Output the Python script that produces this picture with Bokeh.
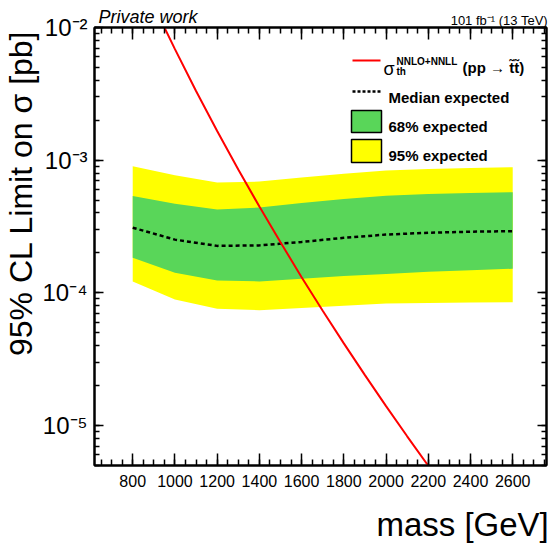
import numpy as np
from bokeh.plotting import figure
from bokeh.models import (LinearAxis, LogAxis, SingleIntervalTicker, LogTicker,
                          CustomJSTickFormatter, Label, BoxAnnotation, Arrow, Range1d)
from bokeh.embed import file_html
from bokeh.resources import INLINE

# ---------------- data ----------------
mass = [800, 1000, 1200, 1400, 1600, 1800, 2000, 2200, 2400, 2600]
median_expected = [3.10e-4, 2.52e-4, 2.26e-4, 2.28e-4, 2.42e-4, 2.60e-4, 2.75e-4, 2.84e-4, 2.89e-4, 2.92e-4]
band68_hi = [5.36e-4, 4.69e-4, 4.25e-4, 4.40e-4, 4.75e-4, 5.10e-4, 5.40e-4, 5.55e-4, 5.65e-4, 5.74e-4]
band68_lo = [1.84e-4, 1.42e-4, 1.24e-4, 1.22e-4, 1.28e-4, 1.34e-4, 1.39e-4, 1.44e-4, 1.48e-4, 1.52e-4]
band95_hi = [9.0e-4, 7.7e-4, 6.8e-4, 6.9e-4, 7.4e-4, 7.9e-4, 8.35e-4, 8.6e-4, 8.75e-4, 8.85e-4]
band95_lo = [1.22e-4, 8.9e-5, 7.6e-5, 7.4e-5, 7.7e-5, 8.0e-5, 8.3e-5, 8.4e-5, 8.45e-5, 8.5e-5]

theory_mass = [900, 1000, 1100, 1200, 1300, 1400, 1500, 1600, 1700, 1800, 1900, 2000, 2100, 2200, 2300]
theory_xsec = [1.46e-2, 6.87e-3, 3.32e-3, 1.66e-3, 8.51e-4, 4.47e-4, 2.41e-4, 1.31e-4, 7.33e-5,
               4.16e-5, 2.40e-5, 1.40e-5, 8.30e-6, 4.98e-6, 3.03e-6]

x_title = "mass [GeV]"
y_title = "95% CL Limit on σ [pb]"
lumi_text = "101 fb⁻¹ (13 TeV)"
tag_text = "Private work"
FONT = "Liberation Sans"
YELLOW = "#FFFF00"
GREEN = "#59D659"
NB = "\u00a0"  # non-breaking space used to shift centred axis titles

p = figure(width=552, height=547,
           x_range=Range1d(619, 2760), y_range=Range1d(5e-6, 1e-2),
           y_axis_type="log", output_backend="svg", toolbar_location=None,
           min_border_left=94, min_border_right=6, min_border_top=27, min_border_bottom=82)
p.grid.visible = False
p.outline_line_color = "black"
p.outline_line_width = 2
p.background_fill_color = "white"
p.border_fill_color = "white"

# ---------------- glyphs ----------------
p.varea(x=mass, y1=band95_lo, y2=band95_hi, fill_color=YELLOW)
p.varea(x=mass, y1=band68_lo, y2=band68_hi, fill_color=GREEN)
p.line(x=mass, y=median_expected, line_color="black", line_width=2.5, line_dash="4 3")
p.line(x=theory_mass, y=theory_xsec, line_color="#FF0000", line_width=2)

# ---------------- axes ----------------
xticker = SingleIntervalTicker(interval=200, num_minor_ticks=4)
yticker = LogTicker(num_minor_ticks=10)
yfmt = CustomJSTickFormatter(code="""
const e = Math.round(Math.log10(tick));
const sup = {"-": "\\u207b", "0": "\\u2070", "1": "\\u00b9", "2": "\\u00b2", "3": "\\u00b3",
             "4": "\\u2074", "5": "\\u2075", "6": "\\u2076", "7": "\\u2077", "8": "\\u2078", "9": "\\u2079"};
return "10" + String(e).split("").map(c => sup[c]).join("");
""")
blank = CustomJSTickFormatter(code="return '';")

def style_common(ax):
    ax.axis_line_color = "black"
    ax.axis_line_width = 2
    ax.major_tick_out = 0
    ax.minor_tick_out = 0
    ax.major_tick_line_width = 1.5
    ax.minor_tick_line_width = 1.5
    ax.major_tick_line_color = "black"
    ax.minor_tick_line_color = "black"
    ax.major_label_text_font = FONT
    ax.major_label_text_color = "black"
    ax.axis_label_text_font = FONT
    ax.axis_label_text_color = "black"
    ax.axis_label_text_font_style = "normal"

def style_x(ax, labels=True):
    style_common(ax)
    ax.ticker = xticker
    ax.major_tick_in = 12
    ax.minor_tick_in = 6
    if labels:
        ax.major_label_text_font_size = "16px"
        ax.major_label_standoff = 9
    else:
        ax.major_label_text_font_size = "1px"
        ax.formatter = blank
        ax.major_label_standoff = 0

def style_y(ax, labels=True):
    style_common(ax)
    ax.ticker = yticker
    ax.major_tick_in = 9
    ax.minor_tick_in = 5
    if labels:
        ax.major_label_text_font_size = "24px"
        ax.formatter = yfmt
        ax.major_label_standoff = 7
    else:
        ax.major_label_text_font_size = "1px"
        ax.formatter = blank
        ax.major_label_standoff = 0

xa = p.xaxis[0]
style_x(xa)
xa.axis_label = NB * 31 + x_title
xa.axis_label_text_font_size = "33px"
xa.axis_label_standoff = 16

ya = p.yaxis[0]
style_y(ya)
ya.axis_label = NB * 12 + y_title
ya.axis_label_text_font_size = "32px"
ya.axis_label_standoff = 0

# top axis: mirrored ticks, luminosity text as its label
top_axis = LinearAxis()
style_x(top_axis, labels=False)
top_axis.axis_label = NB * 99 + lumi_text
top_axis.axis_label_text_font_size = "13px"
top_axis.axis_label_standoff = 0
p.add_layout(top_axis, "above")

# outer top axis without ticks: carries the "Private work" tag on the same row
tag_axis = LinearAxis()
tag_axis.ticker = xticker
tag_axis.formatter = blank
tag_axis.major_label_text_font_size = "1px"
tag_axis.major_label_standoff = 0
tag_axis.major_tick_in = 0
tag_axis.major_tick_out = 0
tag_axis.minor_tick_in = 0
tag_axis.minor_tick_out = 0
tag_axis.axis_line_alpha = 0
tag_axis.major_tick_line_alpha = 0
tag_axis.minor_tick_line_alpha = 0
tag_axis.axis_label = tag_text + NB * 69
tag_axis.axis_label_text_font = FONT
tag_axis.axis_label_text_font_size = "18px"
tag_axis.axis_label_text_font_style = "italic"
tag_axis.axis_label_text_color = "black"
tag_axis.axis_label_standoff = -17
p.add_layout(tag_axis, "above")

right_axis = LogAxis()
style_y(right_axis, labels=False)
p.add_layout(right_axis, "right")

# ---------------- legend (screen units: frame bottom-left origin) ----------------
def lab(x, y, text, size, style="normal"):
    p.add_layout(Label(x=x, y=y, x_units="screen", y_units="screen", text=text,
                       text_font=FONT, text_font_size=size, text_font_style=style,
                       text_align="left", text_baseline="alphabetic", text_color="black"))

p.add_layout(Arrow(end=None, x_start=258, y_start=405, x_end=286, y_end=405,
                   start_units="screen", end_units="screen",
                   line_color="#FF0000", line_width=2))
lab(289, 396.5, "σ", "18px")
lab(302, 404, "NNLO+NNLL", "10px", style="bold")
lab(302, 394, "th", "10px", style="bold")
lab(368, 398.5, "(pp → t̃t̃)", "15px", style="bold")

p.add_layout(Arrow(end=None, x_start=258, y_start=374, x_end=286, y_end=374,
                   start_units="screen", end_units="screen",
                   line_color="black", line_width=2.5, line_dash="3 2"))
lab(294, 368, "Median expected", "15px", style="bold")

p.add_layout(BoxAnnotation(left=257, right=287, top=355, bottom=333,
                           left_units="screen", right_units="screen",
                           top_units="screen", bottom_units="screen",
                           fill_color=GREEN, fill_alpha=1.0,
                           line_color="black", line_alpha=1.0, line_width=1.5))
lab(294, 339, "68% expected", "15px", style="bold")

p.add_layout(BoxAnnotation(left=257, right=287, top=326, bottom=303,
                           left_units="screen", right_units="screen",
                           top_units="screen", bottom_units="screen",
                           fill_color=YELLOW, fill_alpha=1.0,
                           line_color="black", line_alpha=1.0, line_width=1.5))
lab(294, 310, "95% expected", "15px", style="bold")

open("out.html", "w").write(file_html(p, INLINE))
